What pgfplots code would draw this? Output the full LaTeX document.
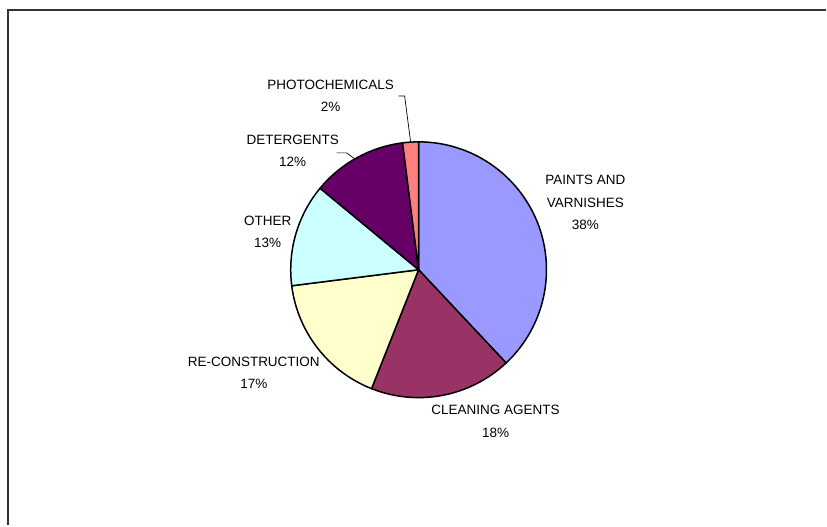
\documentclass[border=0pt]{standalone}
\usepackage{pgfplots}
\usepackage{pgfplotstable}
\pgfplotsset{compat=1.18}
\usepackage{fontspec}
\setmainfont{Liberation Sans}
\definecolor{paintsc}{HTML}{9999FF}
\definecolor{cleanc}{HTML}{993366}
\definecolor{reconc}{HTML}{FFFFCC}
\definecolor{otherc}{HTML}{CCFFFF}
\definecolor{detc}{HTML}{660066}
\definecolor{photoc}{HTML}{FF8080}
\pgfplotstableread{
value colour
38 paintsc
18 cleanc
17 reconc
13 otherc
12 detc
2 photoc
}\piedata
\tikzset{lbl/.style={font=\fontsize{13.5}{22.5}\selectfont, align=center, text=black, inner sep=0pt}}
\begin{document}
\begin{tikzpicture}
\begin{axis}[
  at={(0,0)}, anchor=south west,
  width=827pt, height=526pt, scale only axis,
  xmin=0, xmax=827, ymin=0, ymax=526, y dir=reverse,
  hide axis, clip=false,
]
\addplot[draw=none] coordinates {(0,0) (827,526)};
% frame
\draw[line width=1.6pt, black!80] (axis cs:8,526) -- (axis cs:8,10) -- (axis cs:827,10);
% pie
\pgfplotstablegetrowsof{\piedata}
\pgfmathtruncatemacro\nrows{\pgfplotsretval-1}
\def\cum{0}
\pgfplotsforeachungrouped \i in {0,...,\nrows}{
  \pgfplotstablegetelem{\i}{value}\of\piedata \let\v=\pgfplotsretval
  \pgfplotstablegetelem{\i}{colour}\of\piedata \let\c=\pgfplotsretval
  \pgfmathsetmacro\a{90-3.6*\cum}
  \pgfmathsetmacro\b{90-3.6*(\cum+\v)}
  \edef\temp{\noexpand\filldraw[fill=\c, draw=black, line width=1.5pt, line join=round] (axis cs:419,270) -- ++(\a:128pt) arc[start angle=\a, end angle=\b, radius=128pt] -- cycle;}
  \temp
  \pgfmathsetmacro\cum{\cum+\v}
}
% leader lines
\draw[line width=0.7pt, black] (axis cs:399,96) -- (axis cs:405,96) -- (axis cs:411,142);
\draw[line width=0.7pt, black] (axis cs:337,153) -- (axis cs:347,153) -- (axis cs:355,159);
% labels
\node[lbl] at (axis cs:586,203) {PAINTS AND\\VARNISHES\\38\%};
\node[lbl] at (axis cs:496,422) {CLEANING AGENTS\\18\%};
\node[lbl] at (axis cs:254,373) {RE-CONSTRUCTION\\17\%};
\node[lbl] at (axis cs:268,232) {OTHER\\13\%};
\node[lbl] at (axis cs:293,151) {DETERGENTS\\12\%};
\node[lbl] at (axis cs:331,96) {PHOTOCHEMICALS\\2\%};
\end{axis}
\end{tikzpicture}
\end{document}
